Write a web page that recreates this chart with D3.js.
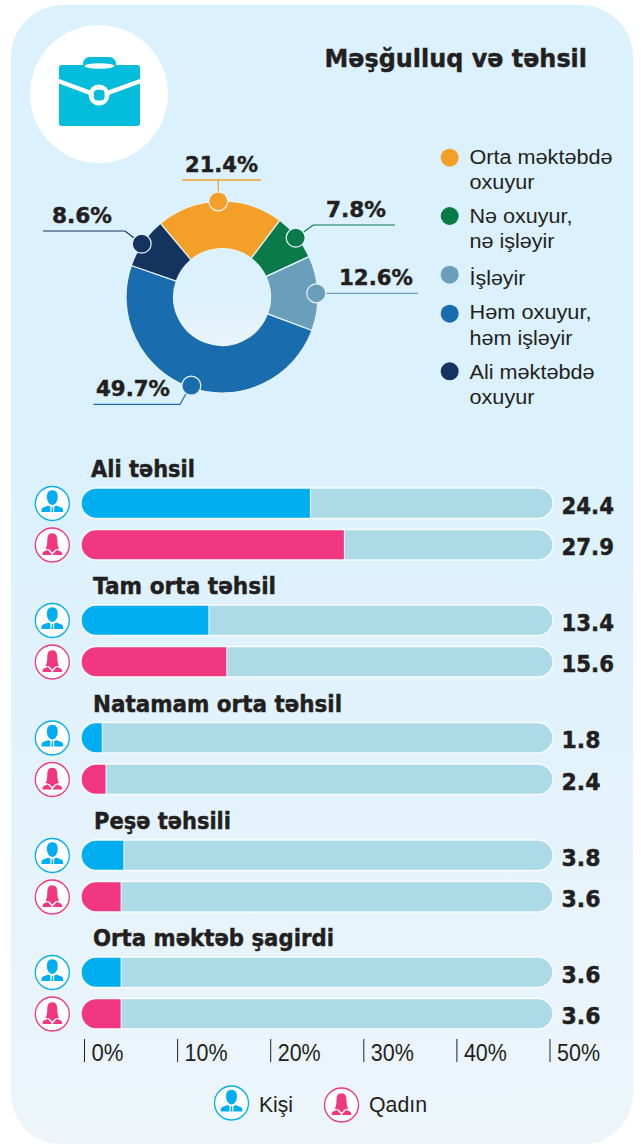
<!DOCTYPE html>
<html><head><meta charset="utf-8">
<script src="https://cdn.jsdelivr.net/npm/d3@7/dist/d3.min.js"></script>
<style>html,body{margin:0;padding:0;background:#fff}svg{display:block}</style>
</head><body><svg id="c" width="641" height="1144"></svg>
<script>
const title = "Məşğulluq və təhsil";
const donutCategories = ["Orta məktəbdə oxuyur","Nə oxuyur, nə işləyir","İşləyir","Həm oxuyur, həm işləyir","Ali məktəbdə oxuyur"];
const legendLines = [["Orta məktəbdə","oxuyur"],["Nə oxuyur,","nə işləyir"],["İşləyir"],["Həm oxuyur,","həm işləyir"],["Ali məktəbdə","oxuyur"]];
const donutValues = [21.4,7.8,12.6,49.7,8.6];
const donutColors = ["#f4a028","#0b7a4a","#6a9fbc","#196cad","#14335f"];
const barGroups = ["Ali təhsil","Tam orta təhsil","Natamam orta təhsil","Peşə təhsili","Orta məktəb şagirdi"];
const maleValues = [24.4,13.4,1.8,3.8,3.6];
const femaleValues = [27.9,15.6,2.4,3.6,3.6];
// bar lengths as actually drawn in the picture, in axis percent
const maleDrawn = [24.3,13.55,2.25,4.55,4.25];
const femaleDrawn = [27.9,15.45,2.65,4.25,4.25];
const axisTicks = [0,10,20,30,40,50];
const genderLabels = ["Kişi","Qadın"];
const MALE="#00aeef", FEMALE="#f0377f", TRACK="#acdbe7", INK="#231f20";
const BOLD="'DejaVu Sans'", REG="'Liberation Sans'";

const svg = d3.select("#c");
const defs = svg.append("defs");
const g = defs.append("linearGradient").attr("id","bg").attr("x1",0).attr("y1",0).attr("x2",0).attr("y2",1);
g.append("stop").attr("offset","0.4").attr("stop-color","#dbf1fd");
g.append("stop").attr("offset","1").attr("stop-color","#edf5fa");
const hole = defs.append("linearGradient").attr("id","hole").attr("x1",0).attr("y1",0).attr("x2",0).attr("y2",1);
hole.append("stop").attr("offset","0.4").attr("stop-color","#dbf1fd");
hole.append("stop").attr("offset","1").attr("stop-color","#e9f4fa");

// text helper: x, baseline y, width the text occupies in the picture
const txt=(t,x,y,w,size,bold)=>svg.append("text").attr("x",x).attr("y",y)
  .attr("font-family",bold?BOLD:REG).attr("font-weight",bold?700:400).attr("font-size",size).attr("fill",INK)
  .attr("stroke",bold?INK:"none").attr("stroke-width",bold?0.45:0)
  .attr("textLength",w).attr("lengthAdjust","spacingAndGlyphs").text(t);

svg.append("path").attr("fill","url(#bg)").attr("d","M11 57 A52 52 0 0 1 63 5 L581 5 A52 52 0 0 1 633 57 L633 1094 A50 50 0 0 1 583 1144 L61 1144 A50 50 0 0 1 11 1094 Z");

// title + icon
txt(title,324.5,66.7,262.5,25.5,true);
svg.append("circle").attr("cx",99).attr("cy",94).attr("r",69).attr("fill","#fff");
const ICON="#04bcdc";
svg.append("rect").attr("x",59).attr("y",65).attr("width",81).attr("height",61).attr("rx",3).attr("fill",ICON);
svg.append("rect").attr("x",83).attr("y",57).attr("width",33).attr("height",13).attr("rx",6.5).attr("fill",ICON);
svg.append("ellipse").attr("cx",99.5).attr("cy",66).attr("rx",15).attr("ry",2.8).attr("fill","#fff");
svg.append("polyline").attr("points","57,80.5 99,96 142,80.5").attr("fill","none").attr("stroke","#fff").attr("stroke-width",4.5);
svg.append("circle").attr("cx",99).attr("cy",95).attr("r",10.5).attr("fill","#fff");
svg.append("rect").attr("x",93.8).attr("y",89.8).attr("width",10.8).attr("height",10.8).attr("rx",4).attr("fill",ICON);

// donut
const cx=222, cy=297, R=96, r=48.4;
const pie = d3.pie().sort(null).startAngle(-39.9*Math.PI/180).endAngle((360-39.9)*Math.PI/180);
const arcs = pie(donutValues);
const arc = d3.arc().innerRadius(r).outerRadius(R);
const dg = svg.append("g").attr("transform",`translate(${cx},${cy})`);
dg.append("circle").attr("r",r).attr("fill","url(#hole)");
dg.selectAll("path").data(arcs).join("path").attr("d",arc).attr("fill",(d,i)=>donutColors[i]).attr("stroke","#e6f5fd").attr("stroke-width",1.2);

const markerAt = [[218.3,201.3],[295.7,237.7],[316.3,293.3],[191.3,385.7],[141.7,243.7]];
const leaderPts = [[[218.3,180]],[[313.3,225],[395,225]],[[418,293.3]],[[185.3,395],[180,404.3],[93.3,404.3]],[[125,231],[43,231]]];
const labelPos = [[185,171.5,73],[326,216.5,60],[339,285,74],[96,396,74],[52,222.5,60]];
arcs.forEach((a,i)=>{
  if(i===0) svg.append("line").attr("x1",182).attr("x2",261).attr("y1",180).attr("y2",180).attr("stroke",donutColors[0]).attr("stroke-width",1.5);
  svg.append("polyline").attr("points",[markerAt[i],...leaderPts[i]].map(p=>p.join(",")).join(" ")).attr("fill","none").attr("stroke",donutColors[i]).attr("stroke-width",1.2);
  svg.append("circle").attr("cx",markerAt[i][0]).attr("cy",markerAt[i][1]).attr("r",9.5).attr("fill",donutColors[i]).attr("stroke","#e6f5fd").attr("stroke-width",1.2);
  const L=labelPos[i];
  txt(donutValues[i].toFixed(1)+"%",L[0],L[1],L[2],22,true);
});

// legend
const legDot=[157.7,216,274.7,313.7,371.3];
const legBase=[[163.5,188.5],[222.7,248],[285],[319,345],[379,404]];
const legW=[[143,65],[103,85],[56],[122,103],[125,65]];
legendLines.forEach((ls,i)=>{
  svg.append("circle").attr("cx",449.7).attr("cy",legDot[i]).attr("r",9).attr("fill",donutColors[i]);
  ls.forEach((t,j)=>txt(t,469.5,legBase[i][j],legW[i][j],20,false));
});

// bars
const x = d3.scaleLinear().domain([0,50]).range([81,553]);
const groupTop=[488,605,722.5,840,957];
const H=30.5, GAP=41.5;
const personMale=(s,cx,cy)=>{
  const p=s.append("g").attr("transform",`translate(${cx},${cy})`);
  p.append("circle").attr("r",17).attr("fill","#fff").attr("stroke",MALE).attr("stroke-width",1.3);
  p.append("path").attr("fill",MALE).attr("d","M0 -13.3 C4.3 -13.3 5.4 -10 5.4 -6.5 C5.4 -2.5 3.2 1.5 0 1.5 C-3.2 1.5 -5.4 -2.5 -5.4 -6.5 C-5.4 -10 -4.3 -13.3 0 -13.3 Z");
  p.append("path").attr("fill",MALE).attr("d","M-10.8 8.5 L-10.8 6.3 Q-10.8 4.6 -8.5 3.8 L-3.8 2 L-1.9 3.2 L-1.9 8.5 Z M10.8 8.5 L10.8 6.3 Q10.8 4.6 8.5 3.8 L3.8 2 L1.9 3.2 L1.9 8.5 Z M-.9 3.2 L.9 3.2 L.5 4.6 L1 8.5 L-1 8.5 L-.5 4.6 Z");
};
const personFemale=(s,cx,cy)=>{
  const p=s.append("g").attr("transform",`translate(${cx},${cy})`);
  p.append("circle").attr("r",17).attr("fill","#fff").attr("stroke",FEMALE).attr("stroke-width",1.3);
  p.append("path").attr("fill",FEMALE).attr("d","M0 -11.8 C4.2 -11.8 5 -8.5 5 -4.5 C5 -0.5 5.6 2 7 3.4 L3 4.6 L0 7.5 L-3 4.6 L-7 3.4 C-5.6 2 -5 -0.5 -5 -4.5 C-5 -8.5 -4.2 -11.8 0 -11.8 Z");
  p.append("path").attr("fill",FEMALE).attr("d","M-9.7 10 L-9.7 8 Q-9.5 6.3 -4.5 5 L-0.7 9 L-0.7 10 Z M9.7 10 L9.7 8 Q9.5 6.3 4.5 5 L0.7 9 L0.7 10 Z");
};
const clip=(id,y)=>defs.append("clipPath").attr("id",id).append("rect").attr("x",x(0)).attr("y",y).attr("width",x(50)-x(0)).attr("height",H).attr("rx",H/2);
const nameX=[91,93,93,94,93], nameW=[104,183,249,137,241];
barGroups.forEach((name,i)=>{
  const ty=groupTop[i];
  txt(name,nameX[i],ty-10.8,nameW[i],23,true);
  [[maleDrawn[i],maleValues[i],MALE,personMale],[femaleDrawn[i],femaleValues[i],FEMALE,personFemale]].forEach((d,k)=>{
    const y=ty+k*GAP, id=`b${i}${k}`;
    clip(id,y);
    svg.append("rect").attr("x",x(0)).attr("y",y).attr("width",x(50)-x(0)).attr("height",H).attr("rx",H/2).attr("fill",TRACK);
    svg.append("rect").attr("clip-path",`url(#${id})`).attr("x",x(0)).attr("y",y).attr("width",x(d[0])-x(0)).attr("height",H).attr("fill",d[2]);
    svg.append("line").attr("x1",x(d[0])).attr("x2",x(d[0])).attr("y1",y).attr("y2",y+H).attr("stroke","#eef9fd").attr("stroke-width",1);
    svg.append("rect").attr("x",x(0)).attr("y",y).attr("width",x(50)-x(0)).attr("height",H).attr("rx",H/2).attr("fill","none").attr("stroke","#f7fcfe").attr("stroke-width",1.3);
    d[3](svg,52.3,y+15.5);
    const s=d[1].toFixed(1);
    txt(s,561.5,y+25.5,s.length>3?52.5:39,23.5,true);
  });
});

// axis
const ax = d3.scaleLinear().domain([0,50]).range([84,549.5]);
const axis = d3.axisBottom(ax).tickValues(axisTicks).tickFormat(d=>d+"%").tickSize(23).tickPadding(0);
const axg = svg.append("g").attr("transform","translate(0,1039)").call(axis);
axg.select(".domain").remove();
axg.selectAll("line").attr("stroke",INK).attr("stroke-width",1);
axg.selectAll("text").attr("x",7).attr("y",21.5).attr("dy",null).attr("text-anchor","start").attr("font-family",REG).attr("font-size",23).attr("fill",INK)
  .attr("lengthAdjust","spacingAndGlyphs").attr("textLength",d=>d===0?32:43);

// gender legend
personMale(svg,231.5,1103);
personFemale(svg,341.5,1105);
txt(genderLabels[0],259,1112,34,22,false);
txt(genderLabels[1],369,1112,58,22,false);
</script></body></html>
